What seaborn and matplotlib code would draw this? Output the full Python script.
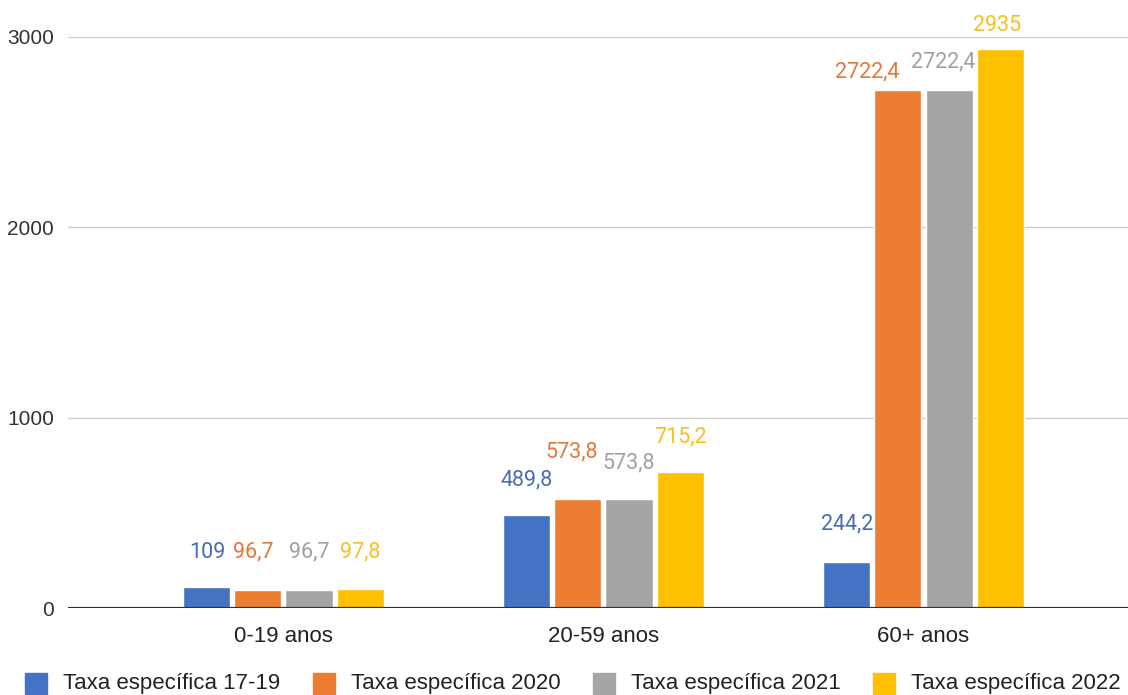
import matplotlib
matplotlib.use("Agg")
import matplotlib.pyplot as plt
from matplotlib.patches import Rectangle
import seaborn as sns
import pandas as pd

# Age groups and series
categories = ["0-19 anos", "20-59 anos", "60+ anos"]
series = ["Taxa específica 17-19", "Taxa específica 2020",
          "Taxa específica 2021", "Taxa específica 2022"]
taxa_17_19 = [109, 489.8, 244.2]
taxa_2020 = [96.7, 573.8, 2722.4]
taxa_2021 = [96.7, 573.8, 2722.4]
taxa_2022 = [97.8, 715.2, 2935]
y_ticks = [0, 1000, 2000, 3000]

colors = ["#4472C4", "#ED7D31", "#A5A5A5", "#FFC000"]
label_colors = ["#4a6cb0", "#e2783a", "#a0a0a0", "#f5c020"]

# Label placement (pixel offsets from the top-centre of each bar)
label_dy = [[35, 35, 38], [38, 47, 18], [38, 36, 28], [37, 35, 24]]
label_dx = [[1, 0, 0], [-5, -6, -31], [0, 0, -6], [0, 0, -3]]

values = [taxa_17_19, taxa_2020, taxa_2021, taxa_2022]
df = pd.DataFrame(
    [(c, s, v[i]) for s, v in zip(series, values) for i, c in enumerate(categories)],
    columns=["faixa", "serie", "taxa"],
)

sns.set_theme(style="white")
plt.rcParams["font.family"] = ["Liberation Sans", "DejaVu Sans"]

W, H = 1128, 695
fig = plt.figure(figsize=(W / 100, H / 100), dpi=100)
ax = fig.add_axes([68 / W, 87 / H, 1 - 68 / W, 571 / H])

sns.barplot(data=df, x="faixa", y="taxa", hue="serie", order=categories,
            hue_order=series, palette=colors, width=0.64, gap=0.08,
            saturation=1, ax=ax, legend=False, errorbar=None)

ax.set_ylim(0, 3000)
ax.set_xlim(-0.673, 2.639)
ax.set_yticks(y_ticks)
ax.set_yticklabels([str(t) for t in y_ticks])
ax.set_xlabel("")
ax.set_ylabel("")
ax.grid(axis="y", color="#cccccc", linewidth=1)
ax.set_axisbelow(True)
for side in ["top", "right", "left", "bottom"]:
    ax.spines[side].set_visible(False)
ax.axhline(0, color="#333333", linewidth=1.6, zorder=3)
ax.tick_params(axis="y", length=0, pad=10, labelsize=15, labelcolor="#333333")
ax.tick_params(axis="x", length=0, pad=13, labelsize=16, labelcolor="#222222")


def fmt(v):
    if float(v).is_integer():
        return str(int(v))
    return f"{v:.1f}".replace(".", ",")


for si, cont in enumerate(ax.containers):
    for ci, bar in enumerate(cont):
        v = bar.get_height()
        ax.annotate(fmt(v), (bar.get_x() + bar.get_width() / 2, v),
                    xytext=(label_dx[si][ci], label_dy[si][ci]),
                    textcoords="offset pixels", ha="center", va="center",
                    fontsize=15.5, fontfamily="Roboto",
                    color=label_colors[si], annotation_clip=False)

# Legend row along the bottom edge
legend_x = [25, 313, 593, 873]
for x0, c, name in zip(legend_x, colors, series):
    fig.patches.append(Rectangle((x0 / W, (H - 694) / H), 22 / W, 21 / H,
                                 transform=fig.transFigure, color=c))
    fig.text((x0 + 38) / W, (H - 684) / H, name, fontsize=16,
             color="#222222", va="center", ha="left")

fig.savefig("out.png", dpi=100)
